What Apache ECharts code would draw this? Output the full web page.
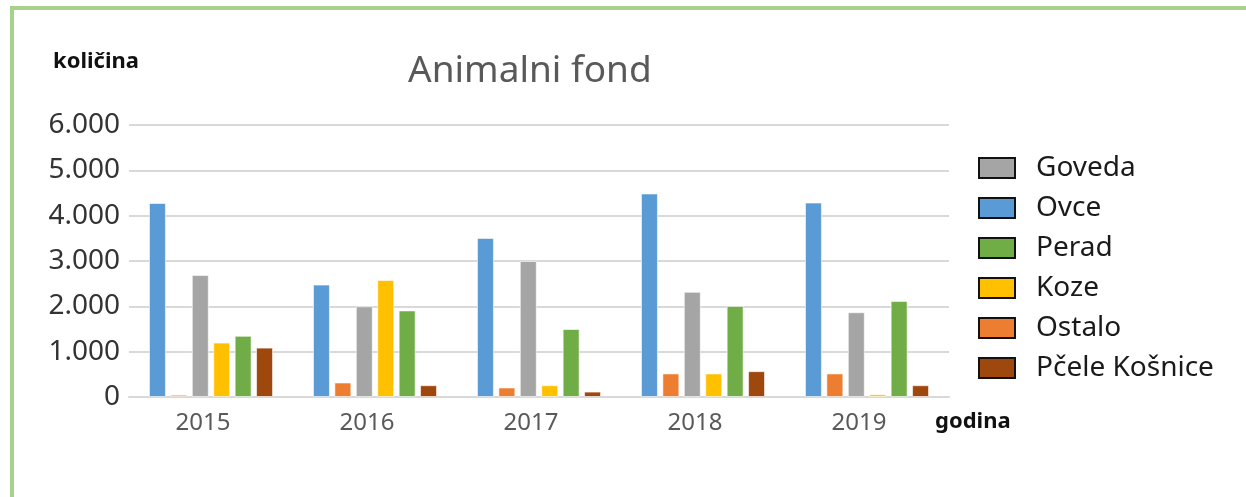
<!DOCTYPE html>
<html>
<head>
<meta charset="utf-8">
<script src="https://cdn.jsdelivr.net/npm/echarts@6/dist/echarts.min.js"></script>
<style>
    html, body { margin: 0; padding: 0; background: #fff; overflow: hidden; }
    #frame { position: absolute; left: 10px; top: 6px; width: 1300px; height: 600px;
             border-top: 4px solid #a9d18e; border-left: 4px solid #a9d18e; }
    #chart { position: absolute; left: 0; top: 0; width: 1246px; height: 497px; }
</style>
</head>
<body>
<div id="frame"></div>
<div id="chart"></div>
<script>
// podaci
var godine = ['2015', '2016', '2017', '2018', '2019'];
var ovce = [4280, 2480, 3510, 4490, 4290];
var ostalo = [50, 320, 210, 520, 520];
var goveda = [2690, 2000, 3000, 2320, 1870];
var koze = [1200, 2580, 260, 520, 60];
var perad = [1350, 1910, 1500, 2010, 2120];
var pcele = [1090, 260, 120, 570, 260];
var legendOrder = ['Goveda', 'Ovce', 'Perad', 'Koze', 'Ostalo', 'Pčele Košnice'];

function bar(name, data, color) {
    return {
        name: name,
        type: 'bar',
        data: data,
        barWidth: 17,
        barGap: '26%',
        itemStyle: {
            color: color,
            borderColor: 'rgba(255,255,255,0.6)',
            borderWidth: 1
        }
    };
}

var myChart = echarts.init(document.getElementById("chart"));
var option = {
    animation: false,
    textStyle: { fontFamily: 'Noto Sans' },
    title: {
        text: 'Animalni fond',
        left: 403,
        top: 48,
        textStyle: {
            fontSize: 37,
            fontWeight: 'normal',
            color: '#595959'
        }
    },
    graphic: [
        {
            type: 'text', left: 53, top: 51,
            style: { text: 'količina', fontSize: 22, fontWeight: 'bold', fill: '#111', fontFamily: 'Noto Sans' }
        },
        {
            type: 'text', left: 935, top: 411,
            style: { text: 'godina', fontSize: 22, fontWeight: 'bold', fill: '#111', fontFamily: 'Noto Sans' }
        }
    ],
    legend: {
        orient: 'vertical',
        left: 973,
        top: 149,
        itemWidth: 36,
        itemHeight: 20,
        itemGap: 12,
        icon: 'rect',
        data: legendOrder,
        itemStyle: {
            borderColor: '#111',
            borderWidth: 2
        },
        textStyle: {
            fontSize: 28,
            lineHeight: 28,
            color: '#1a1a1a',
            padding: [0, 0, 0, 16]
        }
    },
    grid: {
        left: 129,
        right: 297,
        top: 125,
        bottom: 100
    },
    xAxis: {
        type: 'category',
        data: godine,
        axisTick: { show: false },
        axisLine: { lineStyle: { color: '#d9d9d9', width: 2 } },
        axisLabel: { fontSize: 24, color: '#595959', margin: 14, padding: [0, 16, 0, 0] }
    },
    yAxis: {
        type: 'value',
        min: 0,
        max: 6000,
        interval: 1000,
        axisLine: { show: false },
        axisTick: { show: false },
        splitLine: { lineStyle: { color: '#d9d9d9', width: 2 } },
        axisLabel: {
            fontSize: 28,
            color: '#333',
            margin: 9,
            formatter: function (v) {
                return v === 0 ? '0' : (v / 1000) + '.000';
            }
        }
    },
    series: [
        bar('Ovce', ovce, '#5b9bd5'),
        bar('Ostalo', ostalo, '#ed7d31'),
        bar('Goveda', goveda, '#a5a5a5'),
        bar('Koze', koze, '#ffc000'),
        bar('Perad', perad, '#70ad47'),
        bar('Pčele Košnice', pcele, '#9e480e')
    ]
};
if (option && typeof option === "object") {
    myChart.setOption(option, true);
}
</script>
</body>
</html>
